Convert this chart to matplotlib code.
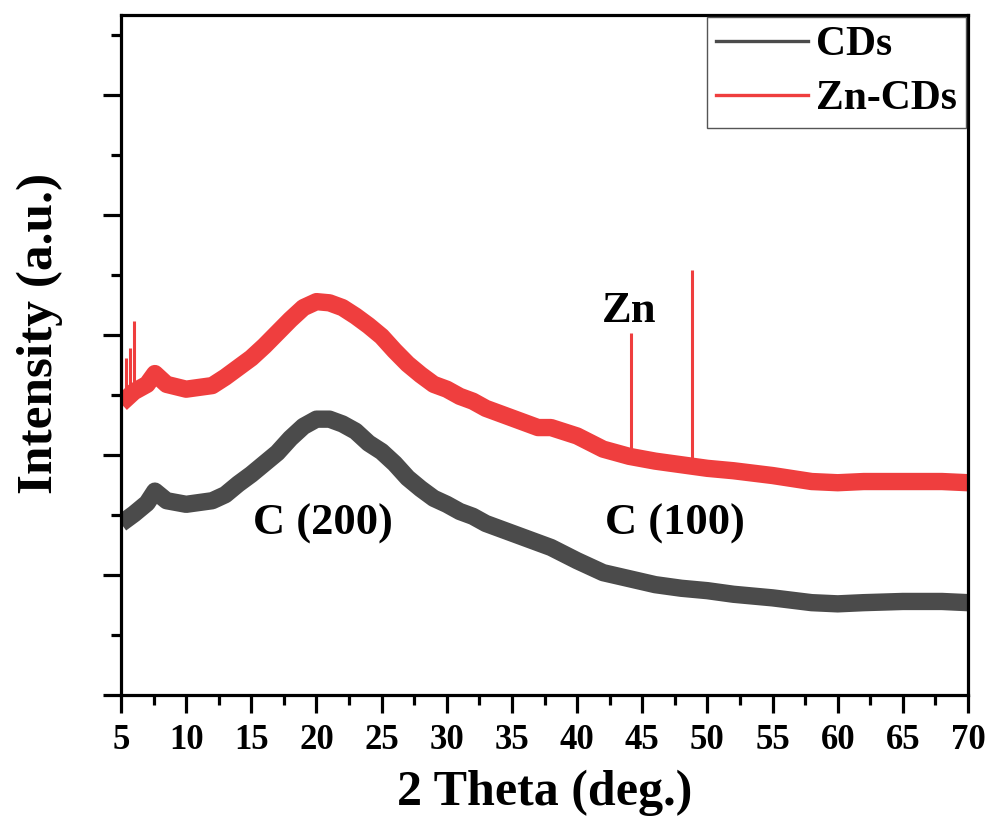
import matplotlib
matplotlib.use("Agg")
import matplotlib.pyplot as plt
from matplotlib.lines import Line2D
from matplotlib.ticker import MultipleLocator

plt.rcParams['font.family'] = ['Liberation Serif', 'DejaVu Serif']
plt.rcParams['font.weight'] = 'bold'

# ---- data ----
two_theta_cds = [5, 6, 7, 7.6, 8.5, 10, 12, 13, 14, 15, 16, 17, 18, 19, 20, 21, 22, 23,
                 24, 25, 26, 27, 28, 29, 30, 31, 32, 33, 34, 35, 36, 37, 38, 40, 42,
                 44, 46, 48, 50, 52, 55, 58, 60, 62, 65, 68, 70]
intensity_cds = [1.43, 1.51, 1.60, 1.70, 1.62, 1.59, 1.62, 1.67, 1.76, 1.84, 1.93, 2.02,
                 2.14, 2.24, 2.30, 2.30, 2.26, 2.20, 2.10, 2.03, 1.93, 1.81, 1.72, 1.64,
                 1.59, 1.53, 1.49, 1.43, 1.39, 1.35, 1.31, 1.27, 1.23, 1.12, 1.02, 0.97,
                 0.92, 0.89, 0.87, 0.84, 0.81, 0.77, 0.76, 0.77, 0.78, 0.78, 0.77]

two_theta_zn = [5, 6, 7, 7.6, 8.5, 10, 12, 13, 14, 15, 16, 17, 18, 19, 20, 21, 22, 23,
                24, 25, 26, 27, 28, 29, 30, 31, 32, 33, 34, 35, 36, 37, 38, 40, 42,
                44, 46, 48, 50, 52, 55, 58, 60, 62, 65, 68, 70]
intensity_zn = [2.43, 2.53, 2.59, 2.68, 2.59, 2.55, 2.58, 2.65, 2.73, 2.81, 2.91, 3.02,
                3.13, 3.23, 3.28, 3.27, 3.23, 3.16, 3.08, 2.99, 2.87, 2.76, 2.67, 2.59,
                2.55, 2.49, 2.45, 2.39, 2.35, 2.31, 2.27, 2.23, 2.23, 2.16, 2.05, 1.99,
                1.95, 1.92, 1.89, 1.87, 1.83, 1.78, 1.77, 1.78, 1.78, 1.78, 1.77]

# sharp reflections on Zn-CDs: position, base, top
spike_pos = [5.4, 5.7, 6.0, 44.1, 48.85]
spike_base = [2.45, 2.48, 2.50, 1.99, 1.91]
spike_top = [2.81, 2.89, 3.12, 3.02, 3.54]

series_names = ['CDs', 'Zn-CDs']
series_colors = ['#4b4b4b', '#ef3e3e']

x_ticks = [5, 10, 15, 20, 25, 30, 35, 40, 45, 50, 55, 60, 65, 70]

annotations = [('C (200)', 20.5, 1.43), ('C (100)', 47.5, 1.43), ('Zn', 44.0, 3.2)]

# ---- figure ----
fig = plt.figure(figsize=(9.92, 8.23), dpi=100)
ax = fig.add_axes([121/992, 1-695/823, (968-121)/992, (695-15)/823])

ax.plot(two_theta_cds, intensity_cds, color=series_colors[0], lw=12.5,
        solid_joinstyle='round', solid_capstyle='butt', zorder=2)
ax.plot(two_theta_zn, intensity_zn, color=series_colors[1], lw=12.5,
        solid_joinstyle='round', solid_capstyle='butt', zorder=2)
ax.vlines(spike_pos, spike_base, spike_top, color=series_colors[1], lw=2.2, zorder=2)

ax.set_xlim(5, 70)
ax.set_ylim(0, 5.67)
ax.set_xticks(x_ticks)
ax.set_xticklabels([str(t) for t in x_ticks])
ax.xaxis.set_minor_locator(MultipleLocator(2.5))
ax.yaxis.set_major_locator(MultipleLocator(1))
ax.yaxis.set_minor_locator(MultipleLocator(0.5))
ax.set_yticklabels([])

for s in ax.spines.values():
    s.set_linewidth(2.3)
ax.tick_params(which='major', direction='out', length=13, width=2.3,
               labelsize=25, pad=8)
ax.tick_params(which='minor', direction='out', length=7, width=2.3)
ax.tick_params(axis='y', which='both', labelleft=False)
for lab in ax.get_xticklabels():
    lab.set_fontweight('bold')

ax.set_xlabel('2 Theta (deg.)', fontsize=36, fontweight='bold', labelpad=9)
ax.set_ylabel('Intensity (a.u.)', fontsize=37, fontweight='bold')
ax.yaxis.set_label_coords(-0.068, 0.532)

for txt, xx, yy in annotations:
    ax.text(xx, yy, txt, fontsize=32, fontweight='bold', ha='center', va='center')

handles = [Line2D([0], [0], color=c, lw=2.4) for c in series_colors]
leg = ax.legend(handles, series_names, loc='upper right', bbox_to_anchor=(1.0, 1.0),
                frameon=True, fancybox=False, edgecolor='#555555',
                framealpha=1, borderpad=0.22, handlelength=2.2, handletextpad=0.2,
                labelspacing=0.38, borderaxespad=0.05, prop={'weight': 'bold', 'size': 30})
leg.get_frame().set_linewidth(1.0)

fig.savefig('out.png', dpi=100)
